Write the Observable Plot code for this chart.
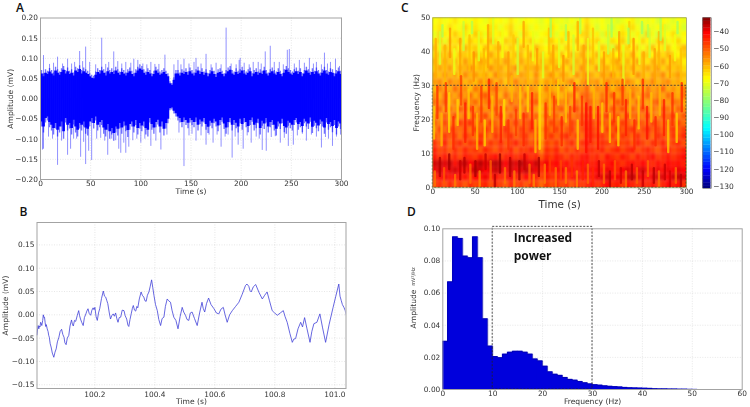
<!DOCTYPE html>
<html>
<head>
<meta charset="utf-8">
<script src="https://cdn.jsdelivr.net/npm/d3@7"></script>
<script src="https://cdn.jsdelivr.net/npm/@observablehq/plot@0.6"></script>
<style>
  html, body { margin: 0; background: #fff; }
  #stage { position: relative; width: 750px; height: 407px; overflow: hidden; }
  #stage svg, #stage .letter { position: absolute; }
  #stage svg { filter: blur(0.3px); }
  .letter { font: 600 12px "Open Sans", sans-serif; color: #111; line-height: 12px; }
</style>
</head>
<body>
<div id="stage"></div>
<script>
// panel A, dense part of the trace, one value every 2 s, in units of 0.001
const denseTop = [70,62,72,68,75,70,64,78,72,66,74,80,70,76,68,72,64,78,74,82,70,76,72,68,62,
  58,56,66,74,70,78,72,64,76,70,74,68,78,72,66,74,70,64,72,76,68,62,72,78,84,
  80,72,66,74,70,62,68,78,72,66,70,74,68,62,42,38,52,70,70,64,72,68,74,66,76,
  70,64,72,78,68,74,66,72,62,70,76,68,60,72,74,68,62,70,76,80,70,66,74,68,72,
  78,70,66,72,76,62,70,74,66,72,68,78,70,64,72,76,70,66,74,68,62,72,80,74,70,
  66,72,76,68,74,62,70,78,72,66,74,68,76,70,64,72,78,70,66,74,72,62,70,76,68];
const denseBot = [-70,-85,-60,-55,-72,-80,-90,-75,-95,-85,-70,-100,-60,-80,-75,-90,-65,-85,-95,-75,-80,-70,-88,-92,-70,
  -60,-75,-55,-80,-72,-66,-88,-95,-78,-100,-90,-105,-85,-92,-75,-88,-70,-82,-96,-78,-70,-85,-66,-90,-75,
  -82,-70,-90,-95,-60,-78,-88,-72,-65,-85,-70,-92,-75,-62,-30,-28,-38,-45,-55,-60,-72,-58,-66,-74,-60,
  -66,-72,-58,-80,-64,-70,-60,-78,-86,-68,-74,-62,-70,-82,-66,-58,-76,-88,-72,-60,-80,-66,-74,-85,-62,
  -78,-60,-72,-84,-66,-58,-80,-74,-62,-90,-68,-76,-60,-85,-72,-66,-80,-92,-70,-76,-62,-84,-88,-68,-74,
  -80,-66,-60,-78,-72,-84,-62,-70,-76,-58,-86,-68,-74,-82,-64,-70,-88,-60,-78,-72,-84,-66,-90,-70,-76];
const spikeT = [3,9,13,17,22,27,31,34,39,42,45,49,55,61,65,68,73,77,81,85,90,93,97,102,106,110,114,118,124,
  133,137,140,143,148,153,155,160,165,170,175,180,185,190,195,198,199,203,208,212,217,220,224,229,233,238,242,246,248,253,258,263,268,272,275,280,283,286,289,294,298,
  2,3,8,12,17,21,27,30,33,36,40,43,45,48,51,56,60,64,67,71,75,78,80,83,85,88,92,96,100,104,110,115,120,126,
  138,143,148,151,155,160,165,168,172,176,180,184,187,191,194,197,202,206,210,215,218,221,225,230,234,239,243,247,252,256,261,265,270,275,280,284,287,291,295,299];
const spikeV = [107,85,88,103,86,98,86,90,117,92,128,90,84,150,85,90,116,92,86,90,88,98,95,86,84,90,85,85,108,
  84,95,84,98,86,90,100,86,110,84,88,84,175,86,84,95,100,88,84,90,90,86,116,130,90,90,84,120,122,86,95,88,100,86,90,84,113,86,90,98,80,
  -127,-125,-95,-100,-165,-105,-140,-125,-100,-100,-145,-108,-163,-130,-153,-100,-98,-105,-140,-100,-104,-125,-135,-110,-135,-120,-104,-100,-110,-100,-118,-105,-127,-90,
  -85,-168,-92,-88,-105,-92,-115,-90,-110,-90,-120,-95,-90,-147,-95,-115,-125,-92,-110,-95,-100,-128,-130,-96,-94,-110,-98,-118,-115,-92,-88,-105,-90,-95,-122,-96,-100,-118,-95,-90];

// panel B, one second of the trace, time is 100 s + offset
const zoomOffset = [.007,.009,.011,.013,.015,.017,.019,.021,.023,.026,.028,.030,.032,.034,.036,.038,.041,.044,.046,.048,.051,.054,.058,.063,.067,.071,.075,.080,.084,.089,.093,.097,.100,.104,.108,.113,.117,.122,.125,.128,.132,.136,.141,.146,.149,.152,.156,.161,.165,.170,.173,.177,.181,.186,.190,.194,.197,.200,.204,.208,.212,.216,.222,.228,.232,.236,.240,.243,.248,.252,.256,.261,.265,.269,.273,.277,.281,.286,.291,.297,.301,.306,.310,.313,.317,.321,.325,.328,.332,.336,.340,.343,.348,.354,.358,.363,.367,.371,.375,.380,.384,.389,.393,.397,.402,.408,.413,.419,.424,.430,.435,.441,.446,.452,.457,.463,.470,.477,.484,.491,.496,.502,.507,.513,.518,.524,.532,.541,.549,.557,.561,.566,.572,.579,.587,.597,.605,.613,.620,.628,.634,.641,.649,.658,.669,.680,.691,.702,.707,.713,.717,.721,.728,.736,.747,.758,.766,.774,.782,.791,.799,.808,.818,.828,.834,.841,.850,.858,.863,.869,.877,.886,.892,.899,.907,.917,.923,.930,.940,.950,.959,.969,.981,.994,1.003,1.013,1.017,1.021,1.025,1.030,1.034,1.038];
const zoomV = [-.043,-.030,-.023,-.030,-.024,-.026,-.016,-.018,-.023,-.012,0,-.006,-.005,-.016,-.025,-.021,-.030,-.036,-.044,-.048,-.062,-.069,-.082,-.091,-.080,-.073,-.058,-.048,-.036,-.031,-.042,-.048,-.060,-.064,-.050,-.044,-.024,-.011,-.020,-.024,-.012,-.014,-.002,.009,-.002,-.009,-.016,-.023,-.006,.002,.008,.013,.003,-.001,.010,.015,.011,.016,-.004,-.012,.004,.013,.035,.051,.040,.038,.030,.024,.004,-.009,-.002,.002,-.003,.004,-.008,-.016,-.006,-.005,.010,.009,-.002,-.009,-.022,-.025,-.010,.002,.014,.020,.010,.008,.018,.015,.034,.049,.042,.038,.030,.029,.042,.049,.060,.075,.058,.041,.022,.009,-.010,-.023,-.008,-.005,.018,.034,.030,.027,.010,-.005,-.012,-.030,-.004,.016,.006,-.001,-.010,-.012,.004,.006,-.008,-.023,.004,.027,.014,.006,.024,.036,.022,.013,.004,.002,.012,.016,0,-.016,0,.009,.018,.027,.044,.063,.066,.061,.052,.049,.060,.065,.048,.034,.042,.049,.030,.009,.004,-.001,.004,.009,-.004,-.016,-.040,-.059,-.052,-.051,-.030,-.016,-.026,-.006,-.030,-.059,-.036,-.019,-.016,.002,-.028,-.059,-.020,.016,.040,.066,.040,.031,.022,.016,.010,-.001];

// panel C, spectrogram, power in -dB, top row is 48-50 Hz, columns are 6 s wide
const specRows = [
[68,66,69,67,65,68,67,69,66,68,70,66,68,67,69,65,68,70,67,68,69,71,68,66,70,69,71,68,70,67,64,69,70,68,71,69,72,70,68,66,71,69,70,68,72,67,69,71,68,70],
[67,65,68,64,67,69,63,67,65,69,68,64,66,70,66,63,69,67,65,70,67,70,69,64,68,71,67,70,66,69,62,67,72,68,70,73,69,66,71,64,69,72,67,70,68,65,71,69,67,72],
[70,63,66,67,62,66,65,69,62,65,70,63,67,65,68,62,66,71,63,67,70,68,66,65,71,67,64,69,67,64,62,70,66,72,65,69,71,64,67,70,66,72,62,69,73,66,68,64,71,67],
[66,62,70,63,65,61,67,62,66,63,68,60,65,69,62,64,60,67,65,62,69,66,70,62,67,64,69,66,62,68,60,66,63,69,71,64,67,62,70,65,68,63,67,70,64,60,69,66,63,68],
[62,66,60,65,63,68,60,64,62,67,61,65,62,59,66,62,67,61,64,66,60,65,68,64,62,69,63,66,68,61,58,64,68,62,65,72,60,66,63,67,62,69,64,61,67,65,62,68,65,61],
[64,60,63,59,66,61,62,65,59,63,66,58,63,65,60,64,61,60,66,58,64,62,66,60,65,61,67,60,63,59,62,65,60,66,62,64,67,61,64,59,66,60,63,67,60,64,60,63,67,62],
[60,63,58,62,60,64,57,62,64,58,60,63,59,62,57,61,64,58,62,61,65,60,63,59,62,65,58,63,60,62,57,60,64,59,65,61,58,63,60,64,58,62,65,59,62,58,64,60,62,66],
[62,58,61,57,63,59,60,55,62,60,63,56,60,58,62,59,56,62,58,60,57,61,59,63,58,61,64,59,62,56,60,63,57,61,59,64,60,57,62,59,63,60,58,61,57,63,59,62,60,64],
[58,61,56,60,58,62,55,60,57,61,58,62,55,59,60,56,61,57,59,62,55,63,60,56,62,58,60,63,56,60,54,59,62,57,60,55,62,58,60,63,56,60,62,57,59,55,62,60,57,61],
[57,55,60,54,58,56,60,57,61,55,58,53,60,56,62,58,54,59,57,60,56,62,57,60,55,61,58,54,62,57,52,58,56,61,55,59,57,60,55,58,62,56,59,54,60,57,55,60,58,62],
[60,54,57,59,52,57,55,61,53,57,59,55,52,58,56,60,57,53,59,55,58,61,54,58,60,55,59,62,53,56,51,60,55,57,53,60,56,52,59,55,57,60,53,58,55,51,59,56,60,54],
[56,59,52,55,58,53,57,52,59,54,50,57,55,60,52,57,54,58,52,56,53,60,58,52,57,60,54,56,59,52,50,55,58,53,56,51,58,54,57,52,59,55,51,57,54,58,52,56,59,53],
[53,56,51,57,54,59,50,55,52,58,54,51,56,53,58,50,55,52,57,53,50,60,54,57,50,56,52,58,53,56,49,52,57,51,55,58,50,54,52,57,51,55,58,52,50,55,57,52,54,58],
[55,51,58,52,56,50,54,48,57,52,56,53,50,57,52,55,49,56,52,54,57,61,52,56,54,50,57,53,49,55,48,50,55,52,57,50,54,49,56,51,54,48,56,52,55,50,53,57,51,55],
[52,56,50,54,49,56,52,55,50,53,48,56,52,49,55,50,54,52,48,55,51,60,50,55,52,57,50,54,52,50,47,49,53,50,47,54,51,55,48,52,50,54,48,52,55,49,52,47,54,50],
[50,54,48,52,55,47,50,46,54,50,53,47,51,54,48,52,46,53,50,47,52,60,53,48,52,49,54,47,51,48,45,47,52,48,51,46,52,47,50,54,46,50,52,47,50,53,47,51,48,52],
[54,48,52,46,50,52,48,53,47,51,46,50,48,52,45,50,53,47,50,46,49,58,48,52,47,53,50,46,52,49,44,46,50,53,47,50,45,50,48,46,52,48,45,50,47,51,49,46,50,47],
[49,52,46,50,47,53,45,50,52,46,49,53,46,50,48,45,51,48,46,52,48,59,50,46,51,48,45,50,47,52,44,45,48,46,50,47,52,46,48,51,45,50,47,52,45,48,51,46,49,45],
[46,50,44,52,47,45,50,46,48,44,51,46,49,45,50,47,44,49,46,50,45,57,47,50,46,52,48,45,50,46,43,46,49,45,47,50,45,48,46,50,44,47,50,45,48,44,50,47,45,49],
[44,48,46,50,45,49,44,48,46,50,44,47,50,45,48,44,50,46,47,44,47,55,45,48,44,50,46,49,45,48,44,45,47,44,49,46,44,48,45,43,49,46,44,47,50,45,43,48,46,44],
[43,46,43,47,44,48,43,45,47,43,46,44,42,47,44,43,46,44,42,46,44,50,44,47,43,45,48,44,46,43,42,46,44,48,42,45,47,43,45,48,43,46,44,42,47,45,43,46,44,42],
[38,37,39,37,42,38,37,41,39,36,40,37,36,38,41,37,39,36,38,40,37,44,40,43,41,44,42,45,43,41,42,44,42,45,43,41,44,46,43,42,44,41,43,45,42,44,41,43,42,44],
[40,38,41,39,38,40,43,39,37,38,41,39,37,39,42,38,40,39,37,38,40,46,41,44,42,40,43,41,44,42,40,42,41,43,40,42,44,41,39,42,40,38,41,43,40,42,40,41,39,41],
[44,42,40,43,41,44,42,46,41,43,40,44,42,45,43,40,44,46,41,43,44,48,43,46,44,42,45,43,40,44,41,43,40,39,38,41,40,43,38,37,39,41,43,40,38,39,41,38,37,39],
[47,45,49,44,48,46,50,45,48,46,44,49,45,47,50,44,48,46,50,45,47,52,46,49,45,48,46,50,44,47,45,42,46,44,41,45,43,47,42,44,46,43,45,42,46,44,41,44,42,46]
];
// narrow vertical streaks: time, low and high frequency, power
const streakT = [4,9,15,21,26,33,37,44,49,55,61,66,72,78,83,90,96,101,108,113,119,124,131,138,143,150,155,161,167,172,179,184,190,197,203,208,214,221,226,233,238,245,250,257,263,268,275,281,287,294,
  12,47,140,158,175,212,232,248,255,270,290,
  2,6,11,16,20,25,30,34,39,43,48,53,58,62,67,71,76,81,85,90,94,99,104,108,113,118,122,127,134,139,144,149,153,158,163,168,172,177,182,187,191,196,201,206,210,215,220,225,229,234,239,244,249,254,259,264,269,274,279,284,289,295,
  3,9,14,20,27,33,38,45,51,56,63,69,74,80,86,92,97,103,109,115,120,126,133,139,146,152,158,165,171,178,184,190,197,203,210,216,223,229,236,242,249,255,262,268,275,281,288,294];
const streakLow = [32,36,30,38,33,30,40,34,31,37,30,35,42,32,38,30,36,33,41,30,37,34,32,39,30,35,31,38,33,40,31,30,36,34,30,39,32,37,30,41,33,36,31,38,30,35,40,32,37,31,
  44,45,44,43,45,44,42,45,44,43,45,
  14,20,12,22,16,11,18,24,13,20,15,11,19,12,23,16,21,13,18,11,25,15,20,12,22,17,10,11,14,21,16,24,12,19,15,22,11,18,10,13,20,11,16,22,13,19,12,24,15,20,11,17,23,14,19,12,21,15,10,18,13,22,
  0,3,1,5,0,2,4,1,3,0,5,2,0,4,1,3,0,2,5,1,0,3,1,4,0,2,1,3,0,2,1,0,3,1,0,2,1,0,2,1,0,3,1,0,2,0,1,0];
const streakHigh = [44,46,42,47,41,44,49,45,40,46,41,48,50,43,47,40,45,44,49,42,46,41,40,47,42,44,39,46,45,49,42,44,47,43,40,48,41,46,42,49,44,45,40,47,41,46,48,39,45,41,
  48,49,50,48,50,50,47,49,48,50,49,
  24,30,22,31,28,21,26,33,25,29,24,22,30,20,32,27,31,24,26,20,33,23,30,22,30,28,20,30,25,30,27,32,21,29,24,31,20,27,25,24,29,24,25,31,22,28,21,32,26,29,20,27,32,24,28,21,30,26,20,28,22,31,
  5,9,6,10,4,8,9,7,8,5,10,8,4,10,6,9,5,8,10,7,4,9,7,9,6,8,6,9,5,8,7,6,8,7,5,8,6,5,7,6,5,8,6,5,7,5,6,4];
const streakDb = [-59,-72,-60,-57,-70,-58,-74,-61,-56,-71,-60,-58,-72,-59,-69,-57,-62,-73,-58,-60,-70,-57,-72,-61,-58,-71,-56,-60,-73,-59,-58,-70,-61,-72,-57,-74,-60,-58,-71,-62,-56,-70,-59,-73,-58,-60,-72,-57,-69,-61,
  -77,-76,-78,-77,-76,-78,-77,-78,-76,-77,-78,
  -62,-46,-60,-47,-64,-45,-63,-48,-44,-62,-46,-60,-47,-63,-45,-61,-48,-44,-64,-46,-60,-47,-62,-45,-63,-44,-61,-64,-46,-60,-47,-63,-45,-61,-48,-44,-62,-46,-42,-43,-60,-42,-62,-45,-61,-46,-63,-47,-44,-60,-45,-62,-46,-43,-61,-45,-60,-44,-62,-46,-63,-45,
  -53,-36,-50,-35,-54,-37,-36,-52,-35,-55,-37,-51,-36,-34,-53,-36,-54,-35,-37,-52,-55,-35,-54,-47,-53,-48,-54,-46,-55,-44,-52,-45,-37,-52,-36,-50,-38,-53,-36,-51,-37,-52,-36,-53,-37,-38,-52,-36];
const colorbarLevels = [-132,-130,-128,-126,-124,-122,-120,-118,-116,-114,-112,-110,-108,-106,-104,-102,-100,-98,-96,-94,-92,-90,-88,-86,-84,-82,-80,-78,-76,-74,-72,-70,-68,-66,-64,-62,-60,-58,-56,-54,-52,-50,-48,-46,-44,-42,-40,-38,-36,-34];
const colorbarTicks = [-40,-50,-60,-70,-80,-90,-100,-110,-120,-130];
const jetDomain = [-131,-120.1,-96.4,-67.6,-40.9,-32];
const jetColors = ["#00007f","#0000ff","#00ffff","#ffff00","#ff0000","#7f0000"];

// panel D, one bar per Hz starting at 0
const psd = [0.030,0.067,0.095,0.094,0.083,0.082,0.095,0.082,0.044,0.027,0.0205,0.0198,0.022,0.0232,0.0238,0.0238,0.0232,0.022,0.019,0.0178,0.0145,0.011,0.0095,0.0088,0.0075,0.0063,0.0058,0.005,0.0042,0.0035,0.003,0.0027,0.0023,0.002,0.0018,0.0016,0.0013,0.0011,0.001,0.0009,0.0008,0.0007,0.0005,0.0004,0.0004,0.0003,0.0003,0.0002,0.0002,0.0001,0.0001];
const powerLines = ["Increased","power"];

const font = "DejaVu Sans";
const ink = "#333";
const grid = { stroke: "#bbb", strokeOpacity: 0.5, strokeDasharray: "1,1.5", strokeWidth: 0.7 };
const frame = Plot.frame({ stroke: "#a3a3a3", strokeWidth: 1 });
const stage = document.querySelector("#stage");

function put(plot, left, top) {
  plot.style.left = left + "px";
  plot.style.top = top + "px";
  stage.append(plot);
}

function axes(xTicks, yTicks, xLabel, yLabel, yOffset, xFmt, yFmt, labelSize = 7.6, xOffset = 16, xPad = 1) {
  const marks = [
    Plot.axisX({ ticks: xTicks, tickFormat: xFmt, tickSize: 0, tickPadding: xPad, label: null, fontSize: 7.4, fill: ink }),
    Plot.axisY({ ticks: yTicks, tickFormat: yFmt, tickSize: 0, tickPadding: 2.5, label: null, fontSize: 7.4, fill: ink }),
    Plot.axisX({ ticks: [], tickSize: 0, label: xLabel, labelAnchor: "center", labelArrow: "none", labelOffset: xOffset, fontSize: labelSize, fill: ink }),
  ];
  if (yLabel) marks.push(Plot.axisY({ ticks: [], tickSize: 0, label: yLabel, labelAnchor: "center", labelArrow: "none", labelOffset: yOffset, fontSize: 7.6, fill: ink }));
  return marks;
}

// A
const denseRows = denseTop.map((v, i) => ({ t: i * 2 + 1, top: v / 1000, bot: denseBot[i] / 1000 }));
const spikes = spikeT.map((t, i) => ({ t, v: spikeV[i] / 1000 }));
put(Plot.plot({
  width: 375, height: 200, marginLeft: 40, marginRight: 34, marginTop: 17.5, marginBottom: 21,
  style: { fontFamily: font, background: "none" },
  x: { domain: [0, 300] }, y: { domain: [-0.2, 0.2] },
  marks: [
    Plot.gridX([0, 50, 100, 150, 200, 250, 300], grid),
    Plot.gridY([-0.15, -0.1, -0.05, 0, 0.05, 0.1, 0.15], grid),
    Plot.ruleX(spikes, { x: "t", y1: 0, y2: "v", stroke: "#0000ff", strokeOpacity: 0.55, strokeWidth: 0.8 }),
    // outer fringe of the band is paler than its core
    Plot.ruleX(denseRows, { x: "t", y1: "bot", y2: "top", stroke: "#0000ff", strokeOpacity: 0.55, strokeWidth: 1.4, clip: "frame" }),
    Plot.ruleX(denseRows, { x: "t", y1: (d) => d.bot * 0.82, y2: (d) => d.top * 0.88, stroke: "#0000ff", strokeWidth: 2.7, clip: "frame" }),
    frame,
    ...axes([0, 50, 100, 150, 200, 250, 300], [-0.2, -0.15, -0.1, -0.05, 0, 0.05, 0.1, 0.15, 0.2], "Time (s)", "Amplitude (mV)", 33, d3.format("d"), d3.format(".2f"), 7.6, 14),
  ],
}), 0, 0);

// B
put(Plot.plot({
  width: 375, height: 207, marginLeft: 36.5, marginRight: 29.5, marginTop: 22, marginBottom: 19,
  style: { fontFamily: font, background: "none" },
  x: { domain: [100.007, 101.037] }, y: { domain: [-0.158, 0.198] },
  marks: [
    Plot.gridX([100.2, 100.4, 100.6, 100.8, 101.0], grid),
    Plot.gridY([-0.15, -0.1, -0.05, 0, 0.05, 0.1, 0.15], grid),
    Plot.lineY(zoomV, { x: zoomOffset.map((o) => 100 + o), y: (d) => d, stroke: "#4040d8", strokeWidth: 0.8, clip: "frame" }),
    frame,
    ...axes([100.2, 100.4, 100.6, 100.8, 101.0], [-0.15, -0.1, -0.05, 0, 0.05, 0.1, 0.15], "Time (s)", "Amplitude (mV)", 34, d3.format(".1f"), d3.format(".2f"), 7.6, 15, 3),
  ],
}), 0, 200);

// C
const specTable = [];
specRows.forEach((row, r) => row.forEach((v, c) => {
  const f = 48 - r * 2;
  const t = c * 6;
  // outer cells run past the frame so the blur does not fade at the edge
  specTable.push({
    x1: c === 0 ? t - 12 : t, x2: c === 49 ? t + 18 : t + 6,
    y1: r === 24 ? f - 4 : f, y2: r === 0 ? f + 6 : f + 2,
    v: -v,
  });
}));
const streaks = streakT.map((t, i) => ({ x1: t - 1.4, x2: t + 1.4, y1: streakLow[i], y2: streakHigh[i], v: streakDb[i] }));
const jet = { type: "linear", domain: jetDomain, range: jetColors };
const dashBoxC = [{ x1: 0, x2: 300, y1: 0, y2: 30 }];
put(Plot.plot({
  width: 305, height: 210, marginLeft: 37.3, marginRight: 14, marginTop: 17.3, marginBottom: 22.7,
  style: { fontFamily: font, background: "none" },
  x: { domain: [0, 300] }, y: { domain: [0, 50] }, color: jet,
  marks: [
    Plot.rect(specTable, { x1: "x1", x2: "x2", y1: "y1", y2: "y2", fill: "v", clip: "frame", imageFilter: "blur(1.5px)" }),
    Plot.rect(streaks, { x1: "x1", x2: "x2", y1: "y1", y2: "y2", fill: "v", fillOpacity: 0.8, rx: 1.2, clip: "frame", imageFilter: "blur(0.75px)" }),
    Plot.rect(dashBoxC, { x1: "x1", x2: "x2", y1: "y1", y2: "y2", fill: "none", stroke: "#333", strokeWidth: 0.8, strokeDasharray: "2,1.5" }),
    Plot.frame({ stroke: "#9a9a5a", strokeWidth: 0.8 }),
    ...axes([0, 50, 100, 150, 200, 250, 300], [0, 10, 20, 30, 40, 50], "Time (s)", "Frequency (Hz)", 19, d3.format("d"), d3.format("d"), 10.4, 20),
  ],
}), 395, 0);

// colorbar
put(Plot.plot({
  width: 55, height: 210, marginLeft: 7.3, marginRight: 39.3, marginTop: 17.3, marginBottom: 22,
  style: { fontFamily: font, background: "none" },
  x: { axis: null, domain: [0, 1] }, y: { domain: [-131.2, -31.9] }, color: jet,
  marks: [
    Plot.rect(colorbarLevels, { x1: 0, x2: 1, y1: (d) => d, y2: (d) => d + 2.2, fill: (d) => d + 1, clip: "frame" }),
    Plot.frame({ stroke: "#555", strokeWidth: 0.6 }),
    Plot.axisY({ anchor: "right", ticks: colorbarTicks, tickSize: 0, tickPadding: 2, label: null, fontSize: 7.5, fill: ink, tickFormat: d3.format("d") }),
  ],
}), 695, 0);

// D
const dashBoxD = [{ x1: 10, x2: 30, y1: 0, y2: 0.1012 }];
put(Plot.plot({
  width: 355, height: 202, marginLeft: 47.3, marginRight: 8.3, marginTop: 23.3, marginBottom: 18,
  style: { fontFamily: font, background: "none" },
  x: { domain: [0, 60] }, y: { domain: [0, 0.1] },
  marks: [
    Plot.gridX([10, 20, 30, 40, 50], grid),
    Plot.gridY([0.02, 0.04, 0.06, 0.08], grid),
    Plot.rectY(psd, { x1: (d, i) => i, x2: (d, i) => i + 1, y1: 0, y2: (d) => d, fill: "#0000dc", insetLeft: -0.3, insetRight: -0.3 }),
    Plot.lineY(psd, { x: (d, i) => i, y: (d) => d, curve: "step-after", stroke: "#00009a", strokeWidth: 0.6 }),
    Plot.rect(dashBoxD, { x1: "x1", x2: "x2", y1: "y1", y2: "y2", fill: "none", stroke: "#222", strokeWidth: 0.8, strokeDasharray: "2,1.5" }),
    Plot.text(powerLines, { x: 14.2, y: (d, i) => [0.0944, 0.083][i], text: (d) => d, textAnchor: "start", fontFamily: "Open Sans", fontWeight: 700, fontSize: 12, fill: "#111" }),
    Plot.text(["Amplitude"], { frameAnchor: "left", y: 0.038, dx: -29, rotate: -90, fontSize: 7.6, fill: ink }),
    Plot.text(["mV²/Hz"], { frameAnchor: "left", y: 0.0645, dx: -29, rotate: -90, fontSize: 5, fill: ink }),
    frame,
    ...axes([0, 10, 20, 30, 40, 50, 60], [0, 0.02, 0.04, 0.06, 0.08, 0.1], "Frequency (Hz)", null, 29, d3.format("d"), d3.format(".2f"), 7.6, 14),
  ],
}), 395, 205);

// panel letters
for (const [letter, left, top] of [["A", 16, 2], ["B", 19.5, 206], ["C", 401, 2], ["D", 407, 206]]) {
  const el = document.createElement("div");
  el.className = "letter";
  el.textContent = letter;
  el.style.left = left + "px";
  el.style.top = top + "px";
  stage.append(el);
}
</script>
</body>
</html>
